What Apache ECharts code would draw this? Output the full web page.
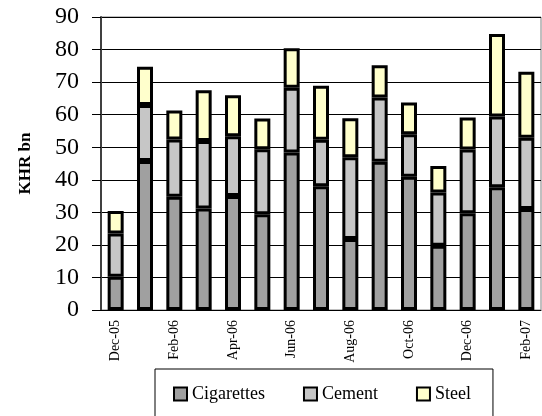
<!DOCTYPE html>
<html><head><meta charset="utf-8">
<script src="https://cdn.jsdelivr.net/npm/echarts@6/dist/echarts.min.js"></script>
<style>html,body{margin:0;padding:0;background:#fff}#c{width:542px;height:416px}</style>
</head><body><div id="c"></div>
<script>
var categories = ['Dec-05','Jan-06','Feb-06','Mar-06','Apr-06','May-06','Jun-06','Jul-06','Aug-06','Sep-06','Oct-06','Nov-06','Dec-06','Jan-07','Feb-07'];
var cigarettes = [10.2,45.8,34.8,31.2,35.0,29.4,48.4,38.0,21.8,45.5,40.9,19.7,29.7,37.7,31.0];
var cement = [13.3,17.2,17.6,20.7,18.4,20.0,19.9,14.3,25.1,19.8,13.1,16.4,19.6,21.7,21.9];
var steel = [6.9,11.7,8.9,15.6,12.6,9.4,12.1,16.6,12.0,9.9,9.7,8.1,9.8,25.4,20.3];
var seriesNames = ['Cigarettes','Cement','Steel'];
var colors = ['#a0a0a0','#c6c6c6','#ffffcc'];
var F = 'Liberation Serif';
var chart = echarts.init(document.getElementById('c'), null, {renderer:'canvas'});
function mk(name, data, color){
  return {name:name, type:'bar', stack:'a', data:data, barWidth:16,
    itemStyle:{color:color, borderColor:'#000', borderWidth:3},
    emphasis:{disabled:true}, animation:false};
}
chart.setOption({
  animation:false,
  grid:{left:101, right:1, top:17, bottom:106, show:true, borderColor:'#808080', borderWidth:1},
  legend:{data:seriesNames, top:369, left:155,
    padding:[16,22,60,18], itemGap:38, itemWidth:13, itemHeight:13, icon:'rect',
    itemStyle:{borderColor:'#000', borderWidth:2},
    borderColor:'#000', borderWidth:1,
    textStyle:{fontFamily:F, fontSize:18, color:'#000'}},
  xAxis:{type:'category', data:categories,
    axisLine:{lineStyle:{color:'#000', width:1}},
    axisTick:{interval:1, length:5, lineStyle:{color:'#000'}},
    axisLabel:{interval:1, rotate:90, margin:10, fontFamily:F, fontSize:14, color:'#000'}},
  yAxis:{type:'value', min:0, max:90, interval:10,
    name:'KHR bn', nameLocation:'middle', nameGap:67, nameRotate:90,
    nameTextStyle:{fontFamily:F, fontSize:17, fontWeight:'bold', color:'#000'},
    axisLine:{show:true, lineStyle:{color:'#404040', width:2}},
    axisTick:{show:true, inside:false, length:9, lineStyle:{color:'#000'}},
    axisLabel:{margin:22, fontFamily:F, fontSize:24, color:'#000'},
    splitLine:{lineStyle:{color:'#000', width:1}}},
  series:[mk(seriesNames[0], cigarettes, colors[0]), mk(seriesNames[1], cement, colors[1]), mk(seriesNames[2], steel, colors[2])]
});
</script></body></html>
